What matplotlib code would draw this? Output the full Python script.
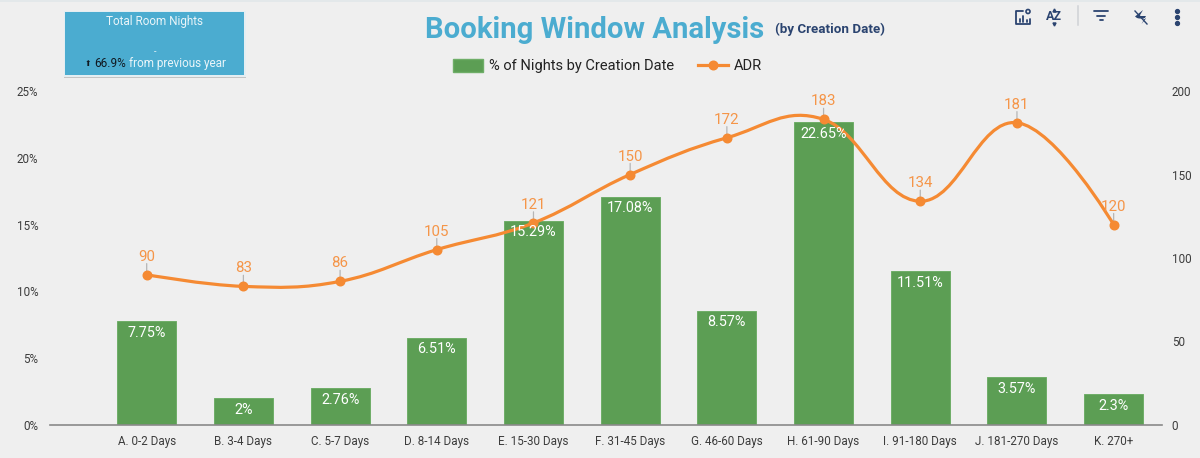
import numpy as np
import matplotlib
matplotlib.use("Agg")
import matplotlib.pyplot as plt
from matplotlib.path import Path
from matplotlib.patches import PathPatch, Rectangle, Patch, Circle
from matplotlib.lines import Line2D

plt.rcParams['font.family'] = ['Roboto', 'DejaVu Sans']

categories = ["A. 0-2 Days", "B. 3-4 Days", "C. 5-7 Days", "D. 8-14 Days", "E. 15-30 Days",
              "F. 31-45 Days", "G. 46-60 Days", "H. 61-90 Days", "I. 91-180 Days",
              "J. 181-270 Days", "K. 270+"]
pct_nights = [7.75, 2, 2.76, 6.51, 15.29, 17.08, 8.57, 22.65, 11.51, 3.57, 2.3]
adr = [90, 83, 86, 105, 121, 150, 172, 183, 134, 181, 120]
pct_ticks = [0, 5, 10, 15, 20, 25]
adr_ticks = [0, 50, 100, 150, 200]

BG = '#EFEFEF'
GREEN = '#5C9E54'
GREEN_EDGE = '#6FAE68'
ORANGE = '#F58A33'
LABEL_ORANGE = '#F59548'
BLUE = '#4BACD0'
NAVY = '#2B4470'
TXT = '#3C3C3C'
W, H = 1200, 458


def spline_path(xs, ys, smoothing=1.5):
    """Smooth path through the data points (Bezier controls derived from neighbours)."""
    denom = smoothing + 1
    n = len(xs)
    left, right = [], []
    for i in range(n):
        x, y = xs[i], ys[i]
        if i == 0 or i == n - 1:
            left.append((x, y)); right.append((x, y)); continue
        lx = (smoothing * x + xs[i - 1]) / denom
        ly = (smoothing * y + ys[i - 1]) / denom
        rx = (smoothing * x + xs[i + 1]) / denom
        ry = (smoothing * y + ys[i + 1]) / denom
        corr = (ry - ly) * (rx - x) / (rx - lx) + y - ry
        left.append((lx, ly + corr)); right.append((rx, ry + corr))
    verts = [(xs[0], ys[0])]
    codes = [Path.MOVETO]
    for i in range(1, n):
        verts += [right[i - 1], left[i], (xs[i], ys[i])]
        codes += [Path.CURVE4] * 3
    return Path(verts, codes)


fig = plt.figure(figsize=(W / 100, H / 100), dpi=100, facecolor=BG)
ax = fig.add_axes([50 / W, (H - 425) / H, (1162 - 50) / W, (425 - 91) / H])
ax.set_facecolor('none')
x = np.arange(len(categories))
bars = ax.bar(x, pct_nights, width=0.61, color=GREEN, edgecolor=GREEN_EDGE, linewidth=0.7, zorder=2)
ax.set_xlim(-1, 10.5)
ax.set_ylim(0, 25)
ax.set_xticks(x, categories)
ax.set_yticks(pct_ticks, [f"{t}%" for t in pct_ticks])
ax.tick_params(axis='x', length=0, pad=7, labelsize=8.4, labelcolor=TXT)
ax.tick_params(axis='y', length=0, pad=8.5, labelsize=8.4, labelcolor=TXT)
for s in ('top', 'left', 'right'):
    ax.spines[s].set_visible(False)
ax.spines['bottom'].set_color('#8A8A8A')
ax.spines['bottom'].set_linewidth(1.2)

ax2 = ax.twinx()
ax2.set_facecolor('none')
ax2.set_ylim(0, 200)
ax2.set_yticks(adr_ticks)
ax2.tick_params(axis='y', length=0, pad=7, labelsize=8.4, labelcolor=TXT)
for s in ax2.spines.values():
    s.set_visible(False)

ax2.add_patch(PathPatch(spline_path(x.astype(float), np.array(adr, float)), fc='none',
                        ec=ORANGE, lw=2.3, zorder=3, capstyle='round'))
ax2.plot(x, adr, ls='none', marker='o', ms=6.2, color=ORANGE, zorder=4)

for xi, v in zip(x, adr):
    ax2.annotate("", xy=(xi, v), xytext=(0, 8), textcoords='offset points',
                 arrowprops=dict(arrowstyle='-', color='#B5B5B5', lw=0.9, shrinkA=0, shrinkB=0), zorder=3)
    ax2.annotate(f"{v}", xy=(xi, v), xytext=(0, 7.9), textcoords='offset points',
                 ha='center', va='bottom', fontsize=10.8, color=LABEL_ORANGE, zorder=6)
for xi, v in zip(x, pct_nights):
    ax2.annotate(f"{v:g}%", xy=(xi, v), xycoords=ax.transData, xytext=(0, -3.2),
                 textcoords='offset points', ha='center', va='top', fontsize=10.4,
                 color='white', zorder=7)

# Page furniture in pixel coordinates
ov = fig.add_axes([0, 0, 1, 1], zorder=10)
ov.set_xlim(0, W)
ov.set_ylim(H, 0)
ov.axis('off')
ov.add_patch(Rectangle((0, 0), W, 1.5, fc='#E3E8EA', ec='none'))

# KPI card
ov.add_patch(Rectangle((64, 12), 182, 66, fc='#C4C4C4', ec='none'))
ov.add_patch(Rectangle((63.5, 10.5), 182, 66, fc='#E4EEF2', ec='none'))
ov.add_patch(Rectangle((65, 12), 179, 63, fc=BLUE, ec='none'))
ov.text(155, 22, "Total Room Nights", ha='center', va='center', fontsize=8.5, color='#EAF5F9')
ov.text(155, 51.5, "-", ha='center', va='center', fontsize=6.5, color='#EAF5F9')
ov.text(87.5, 63.5, "⬆", ha='center', va='center', fontsize=5.5, color='#101820',
        family=['DejaVu Sans'])
ov.text(94.5, 63.5, "66.9%", ha='left', va='center', fontsize=8.5, color='#101820')
ov.text(129, 63.5, "from previous year", ha='left', va='center', fontsize=8.5, color='#EAF5F9')

# Title
ov.text(425, 29.5, "Booking Window Analysis", ha='left', va='center', fontsize=21.1,
        fontweight='bold', color=BLUE)
ov.text(775, 29.5, "(by Creation Date)", ha='left', va='center', fontsize=9.6,
        fontweight='bold', color=NAVY)

# Legend
handles = [Patch(fc=GREEN, ec=GREEN_EDGE, lw=1),
           Line2D([], [], color=ORANGE, lw=2.3, marker='o', ms=6.2)]
fig.legend(handles, ["% of Nights by Creation Date", "ADR"], loc='center',
           bbox_to_anchor=(607.5 / W, 1 - 66 / H), ncol=2, frameon=False, fontsize=10.5,
           handlelength=2.05, handleheight=1.0, columnspacing=1.6, handletextpad=0.42,
           labelcolor='#222222')

# Toolbar icons
ic = dict(color=NAVY, lw=1.3, solid_capstyle='round')
ov.plot([1023, 1016, 1016, 1030, 1030], [10.5, 10.5, 24, 24, 19], **ic)
for px, top in ((1019.5, 19), (1023, 15.5), (1026.5, 20)):
    ov.plot([px, px], [21.5, top], **ic)
ov.add_patch(Circle((1028, 11.5), 2, fc='none', ec=NAVY, lw=1.2))
ov.text(1053.5, 16.5, "AZ", ha='center', va='center', fontsize=9, fontweight='bold', color=NAVY)
ov.plot([1053.5], [23.5], marker='v', ms=2.2, color=NAVY)
ov.plot([1053.5], [9.5], marker='^', ms=2.2, color=NAVY)
ov.plot([1078, 1078], [6, 25], color='#CFD2D6', lw=1.1)
ov.plot([1094, 1108], [11, 11], **ic)
ov.plot([1097, 1105], [15.5, 15.5], **ic)
ov.plot([1099.5, 1102.5], [20, 20], **ic)
ov.fill([1143, 1139.5, 1146, 1141.5, 1146, 1139, 1137, 1135], [10, 16, 16, 24, 18.5, 18.5, 18, 16.5],
        color=NAVY, lw=0)
ov.plot([1135, 1147], [11, 24], color=NAVY, lw=1.0)
for py in (11, 17, 22.5):
    ov.plot([1177], [py], marker='o', ms=2.8, color=NAVY)

fig.savefig("out.png", dpi=100, facecolor=BG)
